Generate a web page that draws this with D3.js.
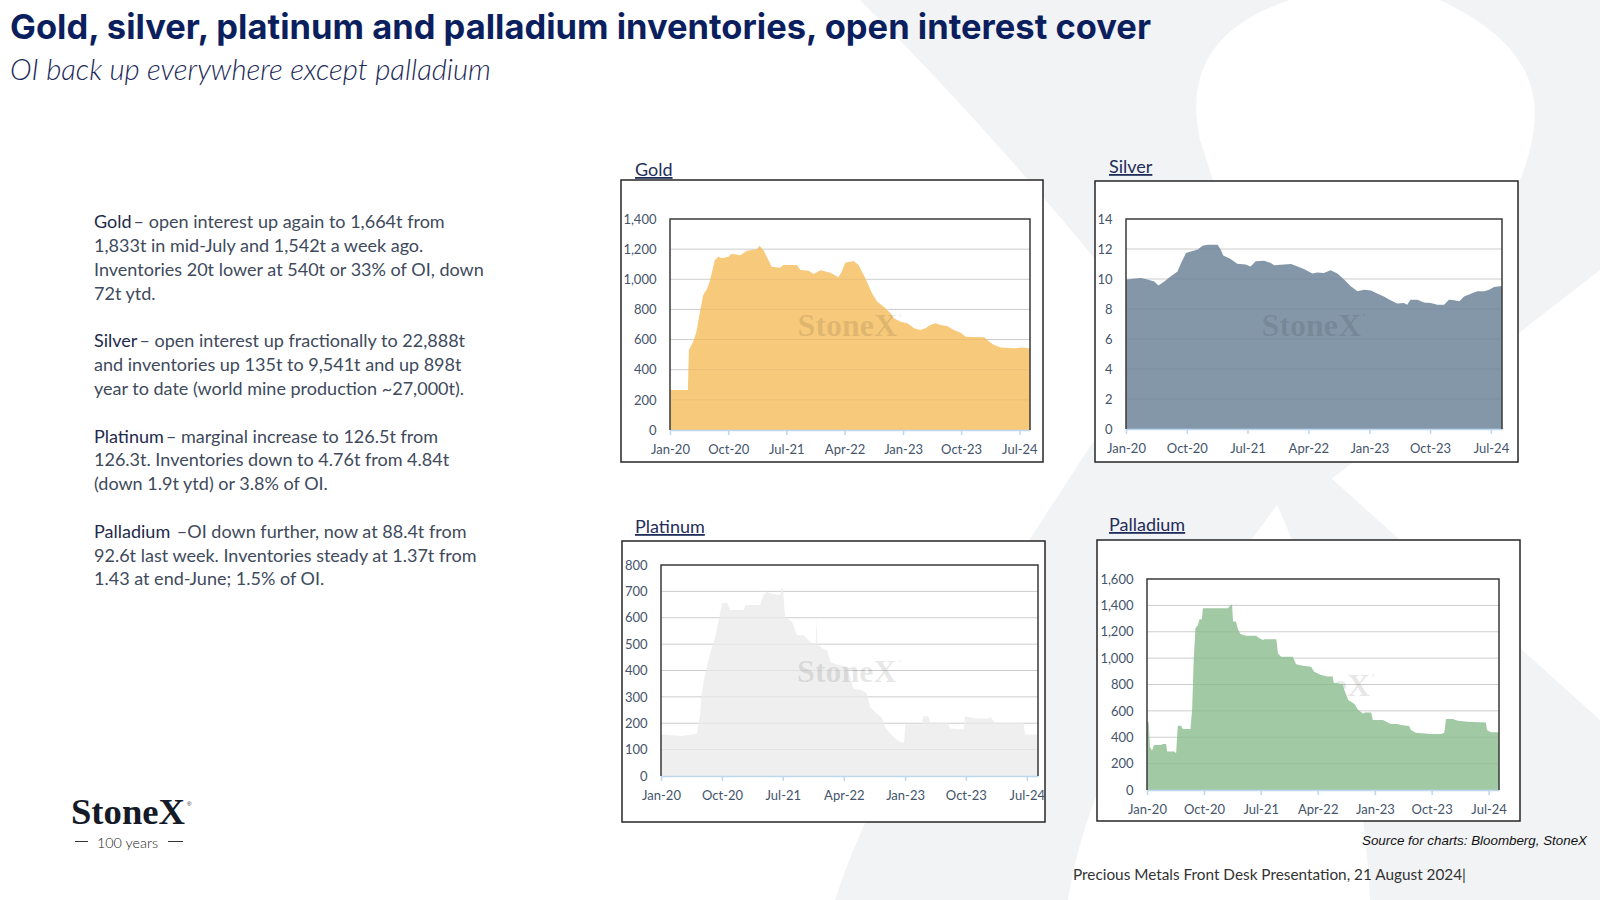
<!DOCTYPE html>
<html>
<head>
<meta charset="utf-8">
<script src="https://cdn.jsdelivr.net/npm/d3@7"></script>
<style>
  body { margin: 0; background: #fff; }
  svg { display: block; }
  .ctitle { font-family: Lato, "Open Sans", sans-serif; font-size: 18px; fill: #1f2d5a; text-decoration: underline; }
  .tick text { font-family: Lato, "Open Sans", sans-serif; font-size: 13px; fill: #44546a; }
</style>
</head>
<body>
<svg id="slide" width="1600" height="900"></svg>
<script>
// ---------------- data ----------------
const tickDates  = ["2020-01-01", "2020-10-01", "2021-07-01", "2022-04-01", "2023-01-01", "2023-10-01", "2024-07-01"];
const tickLabels = ["Jan-20", "Oct-20", "Jul-21", "Apr-22", "Jan-23", "Oct-23", "Jul-24"];

const goldDates = ["2020-01-01","2020-03-25","2020-03-30","2020-04-19","2020-05-04","2020-05-20","2020-06-05","2020-06-21","2020-07-06","2020-07-30",
  "2020-08-15","2020-09-01","2020-10-02","2020-10-17","2020-11-26","2020-12-28","2021-02-13","2021-02-25","2021-03-15","2021-03-31",
  "2021-04-23","2021-06-02","2021-06-18","2021-08-20","2021-09-05","2021-10-14","2021-11-07","2021-12-08","2022-01-25","2022-03-03",
  "2022-03-19","2022-04-04","2022-05-13","2022-06-06","2022-06-30","2022-07-15","2022-08-08","2022-09-01","2022-10-02","2022-11-03",
  "2022-11-19","2022-12-20","2023-01-21","2023-02-22","2023-03-23","2023-04-16","2023-05-09","2023-06-03","2023-06-26","2023-07-27",
  "2023-08-28","2023-09-29","2023-10-22","2024-01-18","2024-02-11","2024-03-04","2024-04-05","2024-06-07","2024-07-16","2024-08-20"];
const goldValues = [265,265,530,586,650,775,895,930,985,1128,
  1150,1140,1150,1170,1160,1190,1200,1223,1195,1150,
  1084,1077,1095,1095,1062,1057,1035,1060,1044,1013,
  1051,1110,1121,1095,1028,984,907,852,818,774,
  741,719,708,675,664,675,697,708,697,690,
  664,646,619,615,586,564,548,542,548,540];

const silverDates = ["2020-01-01","2020-03-07","2020-04-07","2020-05-07","2020-05-26","2020-06-21","2020-07-21","2020-08-20","2020-09-05","2020-09-27",
  "2020-10-19","2020-11-19","2020-12-11","2021-01-03","2021-02-17","2021-03-02","2021-03-14","2021-04-16","2021-05-16","2021-06-23",
  "2021-07-15","2021-08-07","2021-09-14","2021-10-14","2021-10-29","2021-12-13","2022-01-13","2022-02-12","2022-03-12","2022-04-19",
  "2022-05-11","2022-06-10","2022-07-10","2022-08-10","2022-09-09","2022-10-09","2022-11-08","2022-12-08","2023-01-08","2023-02-07",
  "2023-03-07","2023-04-06","2023-05-06","2023-06-05","2023-06-20","2023-07-05","2023-08-05","2023-09-04","2023-10-04","2023-11-03",
  "2023-12-03","2023-12-25","2024-01-18","2024-02-10","2024-03-02","2024-04-02","2024-05-01","2024-06-01","2024-06-23","2024-07-15","2024-08-20"];
const silverValues = [9.96,10.07,9.96,9.84,9.56,9.84,10.18,10.5,11.07,11.73,
  11.84,11.96,12.22,12.29,12.29,11.96,11.56,11.33,11.02,10.96,
  10.84,11.18,11.22,11.07,10.91,10.96,11.0,10.84,10.67,10.36,
  10.44,10.4,10.58,10.36,9.96,9.51,9.18,9.29,9.24,9.02,
  8.84,8.58,8.36,8.4,8.29,8.62,8.62,8.44,8.4,8.29,
  8.29,8.62,8.58,8.51,8.84,9.02,9.18,9.18,9.29,9.47,9.54];

const platDates = ["2020-01-01","2020-04-04","2020-06-10","2020-06-25","2020-07-02","2020-07-17","2020-08-09","2020-09-01","2020-09-16","2020-10-01",
  "2020-10-23","2020-11-07","2021-01-07","2021-01-14","2021-03-21","2021-04-05","2021-04-20","2021-05-05","2021-06-19","2021-06-27",
  "2021-07-01","2021-07-11","2021-08-11","2021-09-03","2021-10-03","2021-10-25","2021-11-09","2021-11-26","2021-11-29","2021-12-03",
  "2021-12-24","2022-01-16","2022-01-31","2022-02-15","2022-03-15","2022-04-14","2022-05-14","2022-06-21","2022-07-13","2022-07-28",
  "2022-08-27","2022-09-19","2022-10-04","2022-10-26","2022-11-18","2022-12-10","2022-12-28","2023-01-02","2023-03-16","2023-03-24",
  "2023-04-16","2023-04-23","2023-07-14","2023-07-22","2023-09-20","2023-09-28","2023-11-12","2024-01-11","2024-01-19","2024-02-11",
  "2024-05-09","2024-06-16","2024-06-23","2024-08-20"];
const platValues = [157,152,160,237,313,389,465,528,591,655,
  657,629,629,648,648,686,699,692,686,711,
  718,604,585,534,534,515,503,503,598,503,
  484,477,433,427,420,414,332,325,313,262,
  237,222,186,161,142,129,127,196,196,227,
  227,205,201,180,176,227,218,218,224,201,
  201,205,157,157];

const pallDates = ["2020-01-01","2020-01-09","2020-01-15","2020-01-25","2020-02-04","2020-03-09","2020-03-17","2020-04-02","2020-04-07","2020-05-12",
  "2020-05-20","2020-05-28","2020-06-13","2020-06-21","2020-07-28","2020-08-05","2020-08-13","2020-08-21","2020-09-02","2020-09-10",
  "2020-09-21","2020-09-26","2021-01-25","2021-02-02","2021-02-13","2021-02-18","2021-03-04","2021-03-12","2021-03-25","2021-04-21",
  "2021-06-09","2021-06-17","2021-07-11","2021-07-19","2021-09-14","2021-09-22","2021-10-07","2021-12-02","2021-12-18","2022-01-20",
  "2022-02-28","2022-03-15","2022-04-17","2022-05-18","2022-06-12","2022-06-17","2022-07-30","2022-08-07","2022-08-26","2022-09-25",
  "2022-10-10","2022-11-04","2022-11-15","2022-12-14","2022-12-22","2023-02-09","2023-02-25","2023-03-18","2023-04-20","2023-05-05",
  "2023-06-15","2023-06-23","2023-07-17","2023-08-18","2023-09-28","2023-11-15","2023-12-01","2023-12-09","2024-01-10","2024-02-04",
  "2024-03-21","2024-06-18","2024-06-23","2024-07-12","2024-08-20"];
const pallValues = [518,518,329,298,341,341,349,349,291,291,
  278,488,488,463,463,607,999,1226,1251,1294,
  1294,1378,1378,1395,1408,1277,1277,1226,1183,1170,
  1170,1158,1138,1143,1143,1036,1011,1011,953,943,
  935,897,872,860,860,814,804,758,683,652,
  612,581,587,587,531,531,518,501,501,493,
  485,455,435,430,425,425,435,538,538,526,
  518,511,455,437,437];

// commentary text on the left
const notes = [
  ["Gold", "– open interest up again to 1,664t from"],
  "1,833t in mid-July and 1,542t a week ago.",
  "Inventories 20t lower at 540t or 33% of OI, down",
  "72t ytd.",
  "",
  ["Silver", "– open interest up fractionally to 22,888t"],
  "and inventories up 135t to 9,541t and up 898t",
  "year to date (world mine production ~27,000t).",
  "",
  ["Platinum", "– marginal increase to 126.5t from"],
  "126.3t.  Inventories down to 4.76t from 4.84t",
  "(down 1.9t ytd) or 3.8% of OI.",
  "",
  ["Palladium", " –OI down further, now at 88.4t from"],
  "92.6t last week. Inventories steady at 1.37t from",
  "1.43 at end-June; 1.5% of OI."
];

// ---------------- helpers ----------------
const parseDate = d3.timeParse("%Y-%m-%d");
const svg = d3.select("#slide");

function fitSize(sel, target) {
  const w = sel.node().getComputedTextLength();
  const fs = parseFloat(sel.attr("font-size"));
  sel.attr("font-size", (fs * target / w).toFixed(2));
}
function fitSpacing(sel, target) {
  const n = sel.text().length;
  const w = sel.node().getComputedTextLength();
  sel.attr("letter-spacing", ((target - w) / n).toFixed(3));
}

// ---------------- background X ----------------
const bgShapes = [
  "M860,0 L1290,0 C1215,25 1185,70 1200,140 L1300,450 L1600,720 L1600,900 L1370,900 C1365,780 1330,620 1277,505 L1160,340 C1050,200 960,100 860,0 Z",
  "M1440,0 L1600,0 L1600,270 L1330,480 L1277,505 C1170,650 1090,760 1068,900 L835,900 C880,760 990,600 1160,340 L1300,450 L1516,190 C1550,110 1545,50 1440,0 Z"
];
svg.selectAll("path.bg").data(bgShapes).join("path")
  .attr("class", "bg")
  .attr("d", d => d)
  .attr("fill", "#f2f3f5");

// ---------------- headings ----------------
const title = svg.append("text")
  .attr("x", 10).attr("y", 38.5)
  .attr("font-family", "Inter, 'Noto Sans', sans-serif")
  .attr("font-weight", 700)
  .attr("font-size", 34.5)
  .attr("fill", "#0b1f5e")
  .text("Gold, silver, platinum and palladium inventories, open interest cover");
fitSpacing(title, 1141);

const subtitle = svg.append("text")
  .attr("x", 10).attr("y", 80)
  .attr("font-family", "Lato, 'Open Sans', sans-serif")
  .attr("font-style", "italic")
  .attr("font-weight", 300)
  .attr("font-size", 22)
  .attr("fill", "#1c2a5a")
  .text("OI back up everywhere except palladium");
fitSize(subtitle, 481);

// ---------------- commentary ----------------
const noteG = svg.append("g")
  .attr("font-family", "Lato, 'Open Sans', sans-serif")
  .attr("font-size", 17);
notes.forEach((line, i) => {
  if (line === "") return;
  const t = noteG.append("text")
    .attr("x", 94)
    .attr("y", 228.3 + 23.8 * i)
    .attr("fill", "#404a5c");
  if (Array.isArray(line)) {
    t.append("tspan").attr("fill", "#1e2a4a").text(line[0]);
    t.append("tspan").attr("dx", 2).text(line[1]);
  } else {
    t.text(line);
  }
});
{
  const ref = noteG.selectAll("text").filter((d, i, n) => d3.select(n[i]).text().startsWith("Inventories 20t"));
  const w = ref.node().getComputedTextLength();
  noteG.attr("font-size", (17 * 390 / w).toFixed(2));
}

// ---------------- charts ----------------
const xStart = parseDate("2020-01-01");
const xEnd = parseDate("2024-08-20");

const charts = [
  { name: "Gold", dates: goldDates, values: goldValues, yMax: 1400, yStep: 200, color: "#f6c97b",
    box: [621, 180, 1043, 462], plot: [670, 219, 1030, 430], title: [635, 176], markOnTop: true },
  { name: "Silver", dates: silverDates, values: silverValues, yMax: 14, yStep: 2, color: "#8497a9",
    box: [1095, 181, 1518, 462], plot: [1126, 219, 1502, 429], title: [1109, 173], markOnTop: true },
  { name: "Platinum", dates: platDates, values: platValues, yMax: 800, yStep: 100, color: "#efefef",
    box: [622, 541, 1045, 822], plot: [661, 565, 1038, 776], title: [635, 533], markOnTop: true },
  { name: "Palladium", dates: pallDates, values: pallValues, yMax: 1600, yStep: 200, color: "#a1c9a4",
    box: [1097, 540, 1520, 821], plot: [1147, 579, 1499, 790], title: [1109, 531], markOnTop: false }
];

function watermark(g, cx, cy) {
  const t = g.append("text")
    .attr("x", cx).attr("y", cy)
    .attr("text-anchor", "middle")
    .attr("font-family", "'Liberation Serif', 'DejaVu Serif', serif")
    .attr("font-weight", 700)
    .attr("font-size", 32)
    .attr("fill", "#000")
    .attr("fill-opacity", 0.1)
    .text("StoneX");
  t.append("tspan").attr("font-size", 7).attr("dy", -19).text("®");
}

charts.forEach(c => {
  const g = svg.append("g").attr("class", "chart");
  const [l, t, r, b] = c.plot;

  g.append("rect")
    .attr("x", c.box[0]).attr("y", c.box[1])
    .attr("width", c.box[2] - c.box[0]).attr("height", c.box[3] - c.box[1])
    .attr("fill", "#fff").attr("stroke", "#262626").attr("stroke-width", 1.5);

  g.append("text").attr("class", "ctitle")
    .attr("x", c.title[0]).attr("y", c.title[1])
    .text(c.name);

  const x = d3.scaleTime().domain([xStart, xEnd]).range([l, r]);
  const y = d3.scaleLinear().domain([0, c.yMax]).range([b, t]);
  const data = c.dates.map((d, i) => ({ date: parseDate(d), value: c.values[i] }));
  const yTicks = d3.range(0, c.yMax + c.yStep / 2, c.yStep);

  // light gridlines under the area
  g.append("g").selectAll("line").data(yTicks.slice(1, -1)).join("line")
    .attr("x1", l).attr("x2", r)
    .attr("y1", d => y(d)).attr("y2", d => y(d))
    .attr("stroke", "#d9d9d9");

  const cx = (l + r) / 2, cy = (t + b) / 2 + 11.5;
  if (!c.markOnTop) watermark(g, cx, cy);

  g.append("path").datum(data)
    .attr("fill", c.color)
    .attr("d", d3.area().x(d => x(d.date)).y0(y(0)).y1(d => y(d.value)));

  // faint gridlines showing through the area
  g.append("g").selectAll("line").data(yTicks.slice(1, -1)).join("line")
    .attr("x1", l).attr("x2", r)
    .attr("y1", d => y(d)).attr("y2", d => y(d))
    .attr("stroke", "#000").attr("stroke-opacity", 0.05);

  if (c.markOnTop) watermark(g, cx, cy);

  // y axis labels
  const yAxis = g.append("g")
    .attr("transform", `translate(${l},0)`)
    .call(d3.axisLeft(y).tickValues(yTicks).tickSize(0).tickPadding(13.5).tickFormat(d3.format(",")));
  yAxis.select(".domain").remove();

  // x axis
  const xAxis = g.append("g")
    .attr("transform", `translate(0,${b})`)
    .call(d3.axisBottom(x)
      .tickValues(tickDates.map(parseDate))
      .tickFormat((d, i) => tickLabels[i])
      .tickSizeInner(5).tickSizeOuter(0).tickPadding(10));
  xAxis.select(".domain").attr("stroke", "#bdd7ee").attr("stroke-width", 1.5);
  xAxis.selectAll(".tick line").attr("stroke", "#bdd7ee").attr("stroke-width", 1.5);

  // plot frame (top, left, right)
  g.append("path")
    .attr("d", `M${l},${b} V${t} H${r} V${b}`)
    .attr("fill", "none").attr("stroke", "#3a3a3a").attr("stroke-width", 1.5);
});

// ---------------- footer ----------------
const logo = svg.append("text")
  .attr("x", 71).attr("y", 824)
  .attr("font-family", "'Liberation Serif', 'DejaVu Serif', serif")
  .attr("font-weight", 700)
  .attr("font-size", 35)
  .attr("fill", "#151a28")
  .text("StoneX");
fitSize(logo, 114);
svg.append("text")
  .attr("x", 187).attr("y", 806)
  .attr("font-family", "'Liberation Sans', sans-serif")
  .attr("font-size", 6).attr("fill", "#151a28")
  .text("®");

svg.append("g").selectAll("line").data([[75, 88], [168, 183]]).join("line")
  .attr("x1", d => d[0]).attr("x2", d => d[1])
  .attr("y1", 841.5).attr("y2", 841.5)
  .attr("stroke", "#333").attr("stroke-width", 1);
const years = svg.append("text")
  .attr("x", 97).attr("y", 847.5)
  .attr("font-family", "Lato, sans-serif")
  .attr("font-weight", 300)
  .attr("font-size", 15.5)
  .attr("fill", "#222")
  .text("100 years");
fitSize(years, 61);

const source = svg.append("text")
  .attr("x", 1587).attr("y", 844.5)
  .attr("text-anchor", "end")
  .attr("font-family", "'Liberation Sans', Arial, sans-serif")
  .attr("font-style", "italic")
  .attr("font-size", 13)
  .attr("fill", "#111")
  .text("Source for charts: Bloomberg, StoneX");
fitSize(source, 225);

const footer = svg.append("text")
  .attr("x", 1073).attr("y", 879.5)
  .attr("font-family", "Lato, 'Open Sans', sans-serif")
  .attr("font-size", 15)
  .attr("fill", "#333")
  .text("Precious Metals Front Desk Presentation, 21 August 2024|");
fitSize(footer, 393);
</script>
</body>
</html>
